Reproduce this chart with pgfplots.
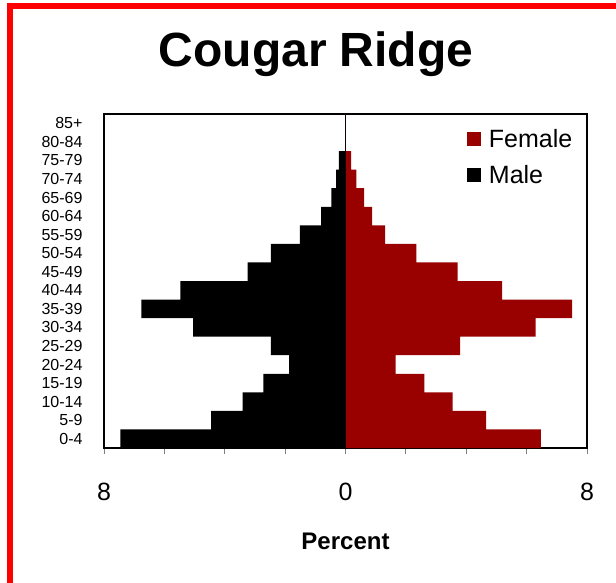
\documentclass[border=0pt]{standalone}
\usepackage{pgfplots}
\pgfplotsset{compat=1.18}
\usepackage{fontspec}
\setmainfont{Liberation Sans}
\definecolor{fem}{RGB}{153,0,0}
\definecolor{framered}{RGB}{255,0,0}

\pgfplotstableread{
y male female
0 -7.46 6.47
1 -4.45 4.66
2 -3.41 3.55
3 -2.72 2.61
4 -1.87 1.66
5 -2.47 3.80
6 -5.05 6.30
7 -6.76 7.51
8 -5.47 5.19
9 -3.24 3.71
10 -2.47 2.35
11 -1.51 1.31
12 -0.81 0.88
13 -0.47 0.62
14 -0.31 0.36
15 -0.22 0.19
16 0 0
17 0 0
}\pyr

\begin{document}
\begin{tikzpicture}
\useasboundingbox (0,0) rectangle (616bp,-583bp);
\fill[white] (0,0) rectangle (616bp,-583bp);
\draw[framered, line width=6bp] (10bp,-6bp) rectangle (660bp,-640bp);
\begin{axis}[
  at={(104bp,-448bp)}, anchor=south west,
  scale only axis, width=483bp, height=334bp,
  xmin=-8, xmax=8, ymin=-0.5, ymax=17.5,
  axis line style={black, line width=1.2bp},
  xtick={-8,-6,...,8},
  xticklabels={8,,,,0,,,,8},
  xtick pos=bottom, tick align=outside,
  major tick length=6bp,
  xtick style={gray, line width=1bp},
  ytick={0,...,17},
  yticklabels={0-4,5-9,10-14,15-19,20-24,25-29,30-34,35-39,40-44,45-49,50-54,55-59,60-64,65-69,70-74,75-79,80-84,85+},
  ytick style={draw=none},
  /pgf/number format/assume math mode=true,
  xticklabel style={font=\fontsize{25bp}{30bp}\selectfont, yshift=-26bp},
  yticklabel style={font=\fontsize{16bp}{18bp}\selectfont, xshift=-12bp},
  xlabel={Percent},
  xlabel style={font=\bfseries\fontsize{24bp}{28bp}\selectfont, at={(axis description cs:0.5,0)}, anchor=center, yshift=-93bp},
  title={Cougar Ridge},
  title style={font=\bfseries\fontsize{48bp}{56bp}\selectfont, at={(axis description cs:0.439,1)}, anchor=base, yshift=42bp},
  legend style={at={(axis description cs:0.751,0.962)}, anchor=north west, draw=none, fill=none, font=\fontsize{25bp}{30bp}\selectfont, inner sep=0pt, row sep=13bp},
  legend cell align=left,
]
\draw[black, line width=1.5bp] (axis cs:0,-0.5) -- (axis cs:0,17.5);
\addplot[xbar, bar width=1, bar shift=0pt, fill=fem, draw=none,
  legend image code/.code={\fill[fem] (0bp,-7bp) rectangle (14bp,7bp); \path (20bp,0bp);}]
  table[x=female, y=y] {\pyr};
\addlegendentry{Female}
\addplot[xbar, bar width=1, bar shift=0pt, fill=black, draw=none,
  legend image code/.code={\fill[black] (0bp,-7bp) rectangle (14bp,7bp); \path (20bp,0bp);}]
  table[x=male, y=y] {\pyr};
\addlegendentry{Male}
\end{axis}
\end{tikzpicture}
\end{document}
